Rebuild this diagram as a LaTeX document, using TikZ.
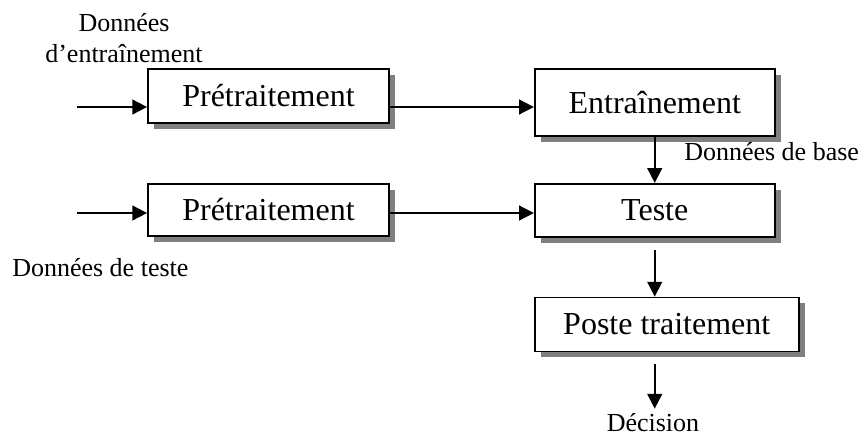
\documentclass[tikz,border=0pt]{standalone}
\usepackage{fontspec}
\setmainfont{Liberation Serif}
\usetikzlibrary{arrows.meta,positioning,shadows}

\begin{document}
\begin{tikzpicture}[
    x=0.75pt, y=-0.75pt,
    node distance=44pt and 108pt,
    block/.style={rectangle, draw, line width=1.3pt, fill=white, minimum width=180pt, minimum height=40pt, inner sep=0pt, font=\fontsize{24}{28}\selectfont, drop shadow={shadow xshift=4.5pt, shadow yshift=-4.5pt, fill=black!50, opacity=1}},
    lbl/.style={align=center, inner sep=0pt, font=\fontsize{19.5}{23}\selectfont},
    arrow/.style={-{Triangle[length=11pt, width=11pt]}, line width=1.3pt},
]
\useasboundingbox (0,0) rectangle (864,437);

% Learning branch
\node[block, minimum width=180.75pt, minimum height=40.5pt] (pretrain) at (268.5,96) {Prétraitement};
\node[block, minimum height=50.25pt, right=108pt of pretrain.north east, anchor=north west] (train) {Entraînement};

% Test branch
\node[block, minimum width=180.75pt, minimum height=39pt, below=44.25pt of pretrain] (pretest) {Prétraitement};
\node[block, minimum height=39.75pt, below=34.5pt of train] (test) {Teste};

% Output
\node[block, minimum width=198pt, minimum height=40.5pt, below=44.25pt of test.south west, anchor=north west] (post) {Poste traitement};

% Labels
\node[lbl] (traindata) at (124,38) {Données\\d’entraînement};
\node[lbl, anchor=west] (basedata) at (684,152) {Données de base};
\node[lbl, anchor=west] (testdata) at (12,268) {Données de teste};
\node[lbl, anchor=base, text depth=0pt] (decision) at (653,431) {Décision};

% Arrows
\coordinate (in1) at (77,107);
\coordinate (in2) at (77,213);
\draw[arrow] (in1) -- (in1 -| pretrain.west);
\draw[arrow] (in1 -| pretrain.east) -- (in1 -| train.west);
\draw[arrow] (in2) -- (in2 -| pretest.west);
\draw[arrow] (in2 -| pretest.east) -- (in2 -| test.west);
\draw[arrow] (train) -- (test);
\draw[arrow, shorten <=9.5pt] (test) -- (test |- post.north);
\draw[arrow, shorten <=9pt, shorten >=3pt] (post.south -| test) -- (test |- decision.north);

\end{tikzpicture}
\end{document}
